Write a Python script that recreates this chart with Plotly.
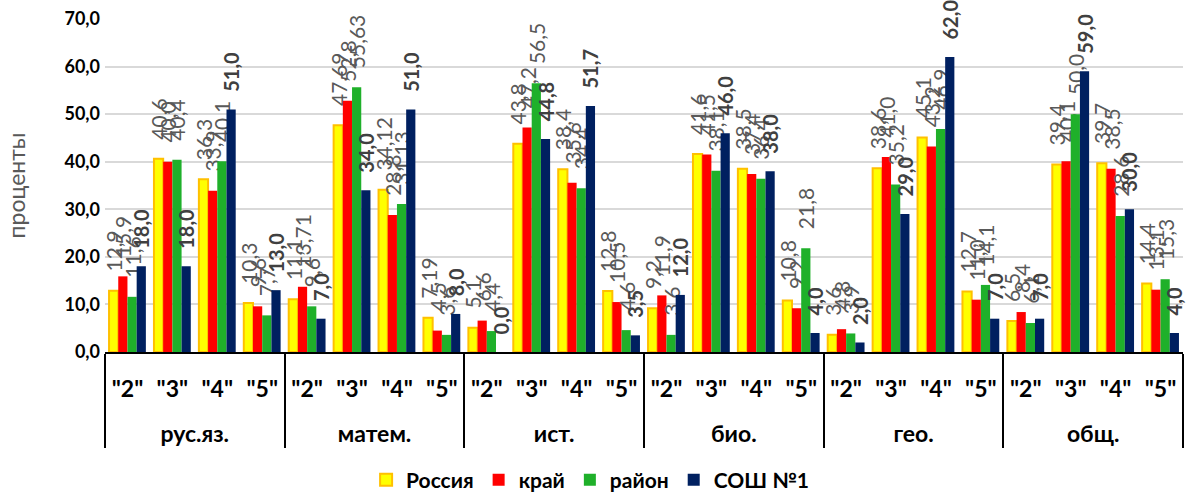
import plotly.graph_objects as go

subjects = ["рус.яз.", "матем.", "ист.", "био.", "гео.", "общ."]
grades = ['"2"', '"3"', '"4"', '"5"']

russia = [12.9, 40.6, 36.3, 10.3,
          11.1, 47.69, 34.12, 7.19,
          5.1, 43.8, 38.4, 12.8,
          9.2, 41.6, 38.5, 10.8,
          3.6, 38.6, 45.1, 12.7,
          6.5, 39.4, 39.7, 14.4]
krai = [15.9, 40.0, 33.9, 9.6,
        13.71, 52.8, 28.8, 4.5,
        6.6, 47.2, 35.6, 10.5,
        11.9, 41.5, 37.4, 9.2,
        4.8, 41.0, 43.2, 11.0,
        8.4, 40.1, 38.5, 13.1]
raion = [11.6, 40.4, 40.1, 7.7,
         9.6, 55.63, 31.13, 3.6,
         4.4, 56.5, 34.4, 4.6,
         3.6, 38.1, 36.4, 21.8,
         3.9, 35.2, 46.9, 14.1,
         6.1, 50.0, 28.6, 15.3]
school = [18.0, 18.0, 51.0, 13.0,
          7.0, 34.0, 51.0, 8.0,
          0.0, 44.8, 51.7, 3.5,
          12.0, 46.0, 38.0, 4.0,
          2.0, 29.0, 62.0, 7.0,
          7.0, 59.0, 30.0, 4.0]

series_names = ["Россия", "край", "район", "СОШ №1"]
yticks = [0, 10, 20, 30, 40, 50, 60, 70]

# second (blank) line in the grade labels only adds vertical room between the two label rows
x_level1 = [s for s in subjects for _ in grades]
x_level2 = [g + "<br>\u00a0" for _ in subjects for g in grades]
x = [x_level1, x_level2]

FONT = "Lato"
PAD = "\u00a0\u00a0\u00a0"


def fmt(v):
    return PAD + str(v).replace(".", ",")


styles = [
    dict(color="#FFFF00", line=dict(color="#FFC000", width=2)),
    dict(color="#FF0000", line=dict(width=0)),
    dict(color="#1FB02A", line=dict(width=0)),
    dict(color="#002060", line=dict(width=0)),
]

fig = go.Figure()
for i, (name, vals) in enumerate(zip(series_names, [russia, krai, raion, school])):
    bold = (i == 3)
    fig.add_trace(go.Bar(
        x=x, y=vals, name=name,
        marker=styles[i],
        text=[fmt(v) for v in vals],
        textposition="outside",
        textangle=-90,
        constraintext="none",
        cliponaxis=False,
        textfont=dict(family=FONT, size=21 if not bold else 20,
                      color="#404040" if bold else "#595959",
                      weight="bold" if bold else "normal"),
    ))

fig.update_layout(
    width=1192, height=493,
    margin=dict(l=105, r=9, t=19, b=141, autoexpand=False),
    paper_bgcolor="white", plot_bgcolor="white",
    barmode="group", bargap=0.18, bargroupgap=0,
    separators=", ",
    font=dict(family=FONT),
    showlegend=True,
    legend=dict(orientation="h", x=0.45, xanchor="center",
                yref="container", y=0.026, yanchor="middle",
                font=dict(family=FONT, size=21, color="black", weight="bold"),
                traceorder="normal"),
)
fig.update_xaxes(
    type="multicategory", automargin=False,
    showline=True, linecolor="black", linewidth=2,
    showdividers=True, dividercolor="black", dividerwidth=2,
    ticks="", showgrid=False, ticklabelstandoff=15,
    tickfont=dict(family=FONT, size=23, color="black", weight="bold"),
)
fig.update_yaxes(
    range=[0, 70], tickvals=yticks, tickformat=".1f", automargin=False,
    showgrid=True, gridcolor="#D9D9D9", gridwidth=2,
    zeroline=False, showline=False, ticks="", ticklabelstandoff=4,
    tickfont=dict(family=FONT, size=18, color="black", weight="bold"),
    title=dict(text="проценты", font=dict(family=FONT, size=23, color="#595959"), standoff=32),
)

fig.write_html("out.html", config={"displayModeBar": False},
               post_script="document.body.style.margin='0';")
